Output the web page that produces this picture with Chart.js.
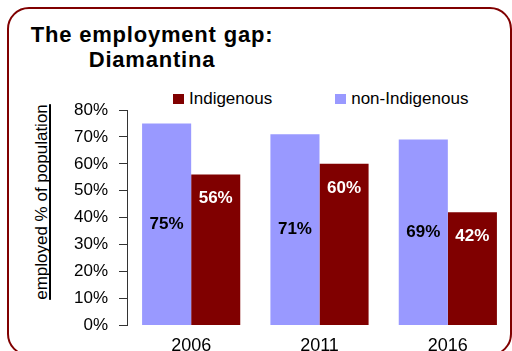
<!DOCTYPE html>
<html>
<head>
<meta charset="utf-8">
<title>The employment gap: Diamantina</title>
<script src="https://cdn.jsdelivr.net/npm/chart.js@4.4.0/dist/chart.umd.min.js"></script>
<style>
  body {
    margin: 0;
    width: 512px;
    height: 351px;
    overflow: hidden;
    background: #fff;
    font-family: "Liberation Sans", Arial, sans-serif;
    color: #000;
  }
  /* rounded frame around the whole slide */
  #frame {
    position: absolute;
    left: 7px;
    top: 7px;
    width: 501px;
    height: 345px;
    border: 2px solid #800000;
    border-radius: 22px;
  }
  #title {
    position: absolute;
    left: 1px;
    top: 23px;
    width: 302px;
    text-align: center;
    font-size: 22px;
    font-weight: bold;
    line-height: 24.5px;
    letter-spacing: 0.8px;
  }
  #legend {
    position: absolute;
    left: 173px;
    top: 89px;
    height: 20px;
    display: flex;
    align-items: center;
    gap: 63px;
    font-size: 17px;
    line-height: 20px;
  }
  #legend span.item { display: flex; align-items: center; }
  #legend span.box { width: 11px; height: 10px; margin-right: 5px; }
  #y_title {
    position: absolute;
    left: -68px;
    top: 192px;
    width: 220px;
    height: 20px;
    line-height: 20px;
    font-size: 17px;
    text-align: center;
    transform: rotate(-90deg);
    text-decoration: underline;
    text-decoration-thickness: 2px;
    text-underline-offset: 2px;
    text-decoration-skip-ink: none;
  }
  #myChart { position: absolute; left: 0; top: 0; }
</style>
</head>
<body>
<div id="frame"></div>
<div id="title">The employment gap:<br>Diamantina</div>
<div id="legend"></div>
<div id="y_title">employed % of population</div>
<canvas id="myChart" width="512" height="371"></canvas>

<script>
// datos del gráfico
const years = ['2006', '2011', '2016'];
const non_indigenous = [75, 71, 69];
const indigenous = [56, 60, 42];

// eje Y: 0% a 80% de 10 en 10
const y_max = 80;
const y_step = 10;

const font_family = '"Liberation Sans", Arial, sans-serif';

// writes the value inside each bar: centred for non-Indigenous,
// near the top for Indigenous
const bar_labels = {
    id: 'bar_labels',
    afterDatasetsDraw(chart) {
        const ctx = chart.ctx;
        ctx.save();
        ctx.font = 'bold 17px ' + font_family;
        ctx.textAlign = 'center';
        ctx.textBaseline = 'middle';
        chart.data.datasets.forEach((ds, i) => {
            ctx.fillStyle = ds.labelColor;
            chart.getDatasetMeta(i).data.forEach((bar, j) => {
                let y = ds.labelAtTop ? bar.y + 24 : (bar.y + bar.base) / 2;
                ctx.fillText(ds.data[j] + '%', bar.x, y);
            });
        });
        ctx.restore();
    }
};

const myChart = new Chart(document.getElementById('myChart'), {
    type: 'bar',
    data: {
        labels: years,
        datasets: [{
            label: 'non-Indigenous',
            data: non_indigenous,
            backgroundColor: '#9999ff',
            labelColor: '#000',
            labelAtTop: false
        }, {
            label: 'Indigenous',
            data: indigenous,
            backgroundColor: '#800000',
            labelColor: '#fff',
            labelAtTop: true
        }]
    },
    options: {
        responsive: false,
        animation: false,
        layout: { padding: { top: 110, bottom: 4, left: 0, right: 0 } },
        datasets: {
            bar: { barPercentage: 1, categoryPercentage: 0.765, borderWidth: 0 }
        },
        plugins: {
            legend: { display: false },
            tooltip: { enabled: false }
        },
        scales: {
            x: {
                grid: { display: false, drawTicks: false, tickLength: 0 },
                border: { display: false },
                ticks: { color: '#000', padding: 10, font: { family: font_family, size: 18 } }
            },
            y: {
                min: 0,
                max: y_max,
                afterFit(scale) { scale.width = 127; },
                grid: { drawOnChartArea: false, drawTicks: true, tickLength: 8, color: '#333' },
                border: { display: true, color: '#333', width: 1 },
                ticks: {
                    stepSize: y_step,
                    color: '#000',
                    padding: 11,
                    font: { family: font_family, size: 17 },
                    callback: (v) => v + '%'
                }
            }
        }
    },
    plugins: [bar_labels]
});

// legend built from the datasets, Indigenous first
let text = '';
myChart.data.datasets.slice().reverse().forEach((ds) => {
    text += `<span class="item"><span class="box" style="background:${ds.backgroundColor}"></span>${ds.label}</span>`;
});
document.getElementById('legend').innerHTML = text;
</script>
</body>
</html>
